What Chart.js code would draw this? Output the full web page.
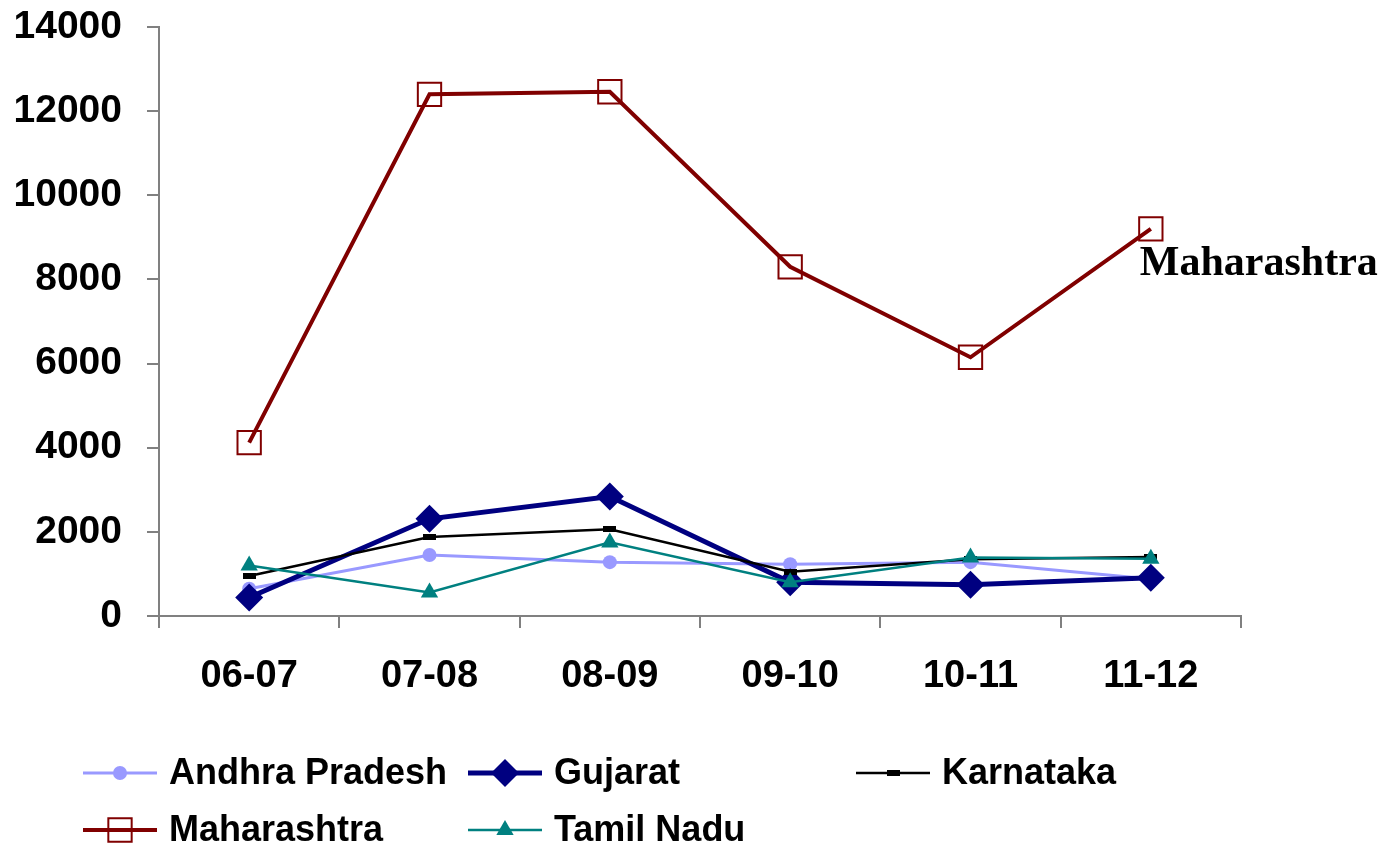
<!DOCTYPE html>
<html>
<head>
<meta charset="utf-8">
<script src="https://cdn.jsdelivr.net/npm/chart.js@4.4.0/dist/chart.umd.min.js"></script>
<style>
html,body{margin:0;padding:0;background:#fff;}
#wrap{width:1385px;height:848px;position:relative;}
</style>
</head>
<body>
<div id="wrap"><canvas id="c" width="1385" height="848"></canvas></div>
<script>
const categories = ["06-07", "07-08", "08-09", "09-10", "10-11", "11-12"];
const andhraPradesh = [650, 1450, 1280, 1230, 1280, 880];
const gujarat = [440, 2310, 2840, 800, 740, 910];
const karnataka = [950, 1880, 2060, 1050, 1350, 1400];
const maharashtra = [4120, 12400, 12460, 8300, 6150, 9200];
const tamilNadu = [1200, 560, 1750, 800, 1390, 1360];
const yTicks = [0, 2000, 4000, 6000, 8000, 10000, 12000, 14000];
const annotationLabel = "Maharashtra";

const kMarker = document.createElement('canvas');
kMarker.width = 13; kMarker.height = 6;
(function(){ const g = kMarker.getContext('2d'); g.fillStyle = '#000'; g.fillRect(0,0,13,6); })();

const FONT = '"Liberation Sans", Arial, sans-serif';

const datasets = [
  {label:"Andhra Pradesh", data:andhraPradesh, borderColor:"#9999FF", backgroundColor:"#9999FF", borderWidth:3,
   pointStyle:"circle", pointRadius:7, pointBorderWidth:0, pointBackgroundColor:"#9999FF", order:5},
  {label:"Gujarat", data:gujarat, borderColor:"#000080", backgroundColor:"#000080", borderWidth:5,
   pointStyle:"rectRot", pointRadius:14, pointBorderWidth:0, pointBackgroundColor:"#000080", order:4},
  {label:"Karnataka", data:karnataka, borderColor:"#000000", backgroundColor:"#000000", borderWidth:2.5,
   pointStyle:kMarker, pointRadius:6, order:3},
  {label:"Maharashtra", data:maharashtra, borderColor:"#800000", backgroundColor:"rgba(0,0,0,0)", borderWidth:4,
   pointStyle:"rect", pointRadius:16.5, pointBorderWidth:2, pointBorderColor:"#800000", pointBackgroundColor:"rgba(0,0,0,0)", order:2},
  {label:"Tamil Nadu", data:tamilNadu, borderColor:"#008080", backgroundColor:"#008080", borderWidth:2.5,
   pointStyle:"triangle", pointRadius:10, pointBorderWidth:0, pointBackgroundColor:"#008080", order:1}
];

const legendLayout = [
  {i:0, x:83, y:773}, {i:1, x:468, y:773}, {i:2, x:856, y:773},
  {i:3, x:83, y:830}, {i:4, x:468, y:830}
];

function drawMarker(ctx, ds, x, y){
  const ps = ds.pointStyle;
  ctx.save();
  if (ps instanceof HTMLCanvasElement){
    ctx.drawImage(ps, x - ps.width/2, y - ps.height/2);
  } else {
    const opts = {pointStyle:ps, radius:ds.pointRadius, rotation:0, borderWidth:ds.pointBorderWidth||0};
    ctx.fillStyle = ds.pointBackgroundColor;
    ctx.strokeStyle = ds.pointBorderColor || ds.pointBackgroundColor;
    ctx.lineWidth = ds.pointBorderWidth || 0;
    Chart.helpers.drawPoint(ctx, opts, x, y);
  }
  ctx.restore();
}

const customPlugin = {
  id:'custom',
  afterDraw(chart){
    const ctx = chart.ctx;
    legendLayout.forEach(item => {
      const ds = datasets[item.i];
      ctx.save();
      ctx.strokeStyle = ds.borderColor;
      ctx.lineWidth = ds.borderWidth;
      ctx.beginPath();
      ctx.moveTo(item.x, item.y);
      ctx.lineTo(item.x + 74, item.y);
      ctx.stroke();
      ctx.restore();
      drawMarker(ctx, ds, item.x + 37, item.y);
      ctx.save();
      ctx.fillStyle = '#000';
      ctx.font = 'bold 36px ' + FONT;
      ctx.textBaseline = 'middle';
      ctx.textAlign = 'left';
      ctx.fillText(ds.label, item.x + 86, item.y + 1);
      ctx.restore();
    });
    const meta = chart.getDatasetMeta(3);
    const pt = meta.data[meta.data.length - 1];
    ctx.save();
    ctx.fillStyle = '#000';
    ctx.font = 'bold 42px "Liberation Serif", "Times New Roman", serif';
    ctx.textBaseline = 'alphabetic';
    ctx.textAlign = 'left';
    ctx.fillText(annotationLabel, pt.x - 11, pt.y + 46);
    ctx.restore();
  }
};

new Chart(document.getElementById('c'), {
  type:'line',
  data:{labels:categories, datasets:datasets},
  options:{
    responsive:false,
    animation:false,
    devicePixelRatio:1,
    layout:{padding:{left:0, right:144, top:27, bottom:0}},
    elements:{line:{tension:0}},
    plugins:{legend:{display:false}, tooltip:{enabled:false}},
    scales:{
      x:{
        offset:true,
        grid:{display:true, drawOnChartArea:false, drawTicks:true, tickLength:12, color:'#808080', lineWidth:2, offset:true},
        border:{display:true, color:'#808080', width:2},
        ticks:{color:'#000', font:{family:FONT, size:38, weight:'bold'}, padding:26, maxRotation:0, autoSkip:false},
        afterFit(s){ s.height = 232; }
      },
      y:{
        min:0, max:14000,
        afterBuildTicks(s){ s.ticks = yTicks.map(v => ({value:v})); },
        grid:{display:true, drawOnChartArea:false, drawTicks:true, tickLength:12, color:'#808080', lineWidth:2},
        border:{display:true, color:'#808080', width:2},
        ticks:{color:'#000', font:{family:FONT, size:39, weight:'bold', lineHeight:0.4}, padding:25, callback:(v) => String(v)},
        afterFit(s){ s.width = 159; s.paddingTop = 0; s.paddingBottom = 0; }
      }
    }
  },
  plugins:[customPlugin]
});
</script>
</body>
</html>
